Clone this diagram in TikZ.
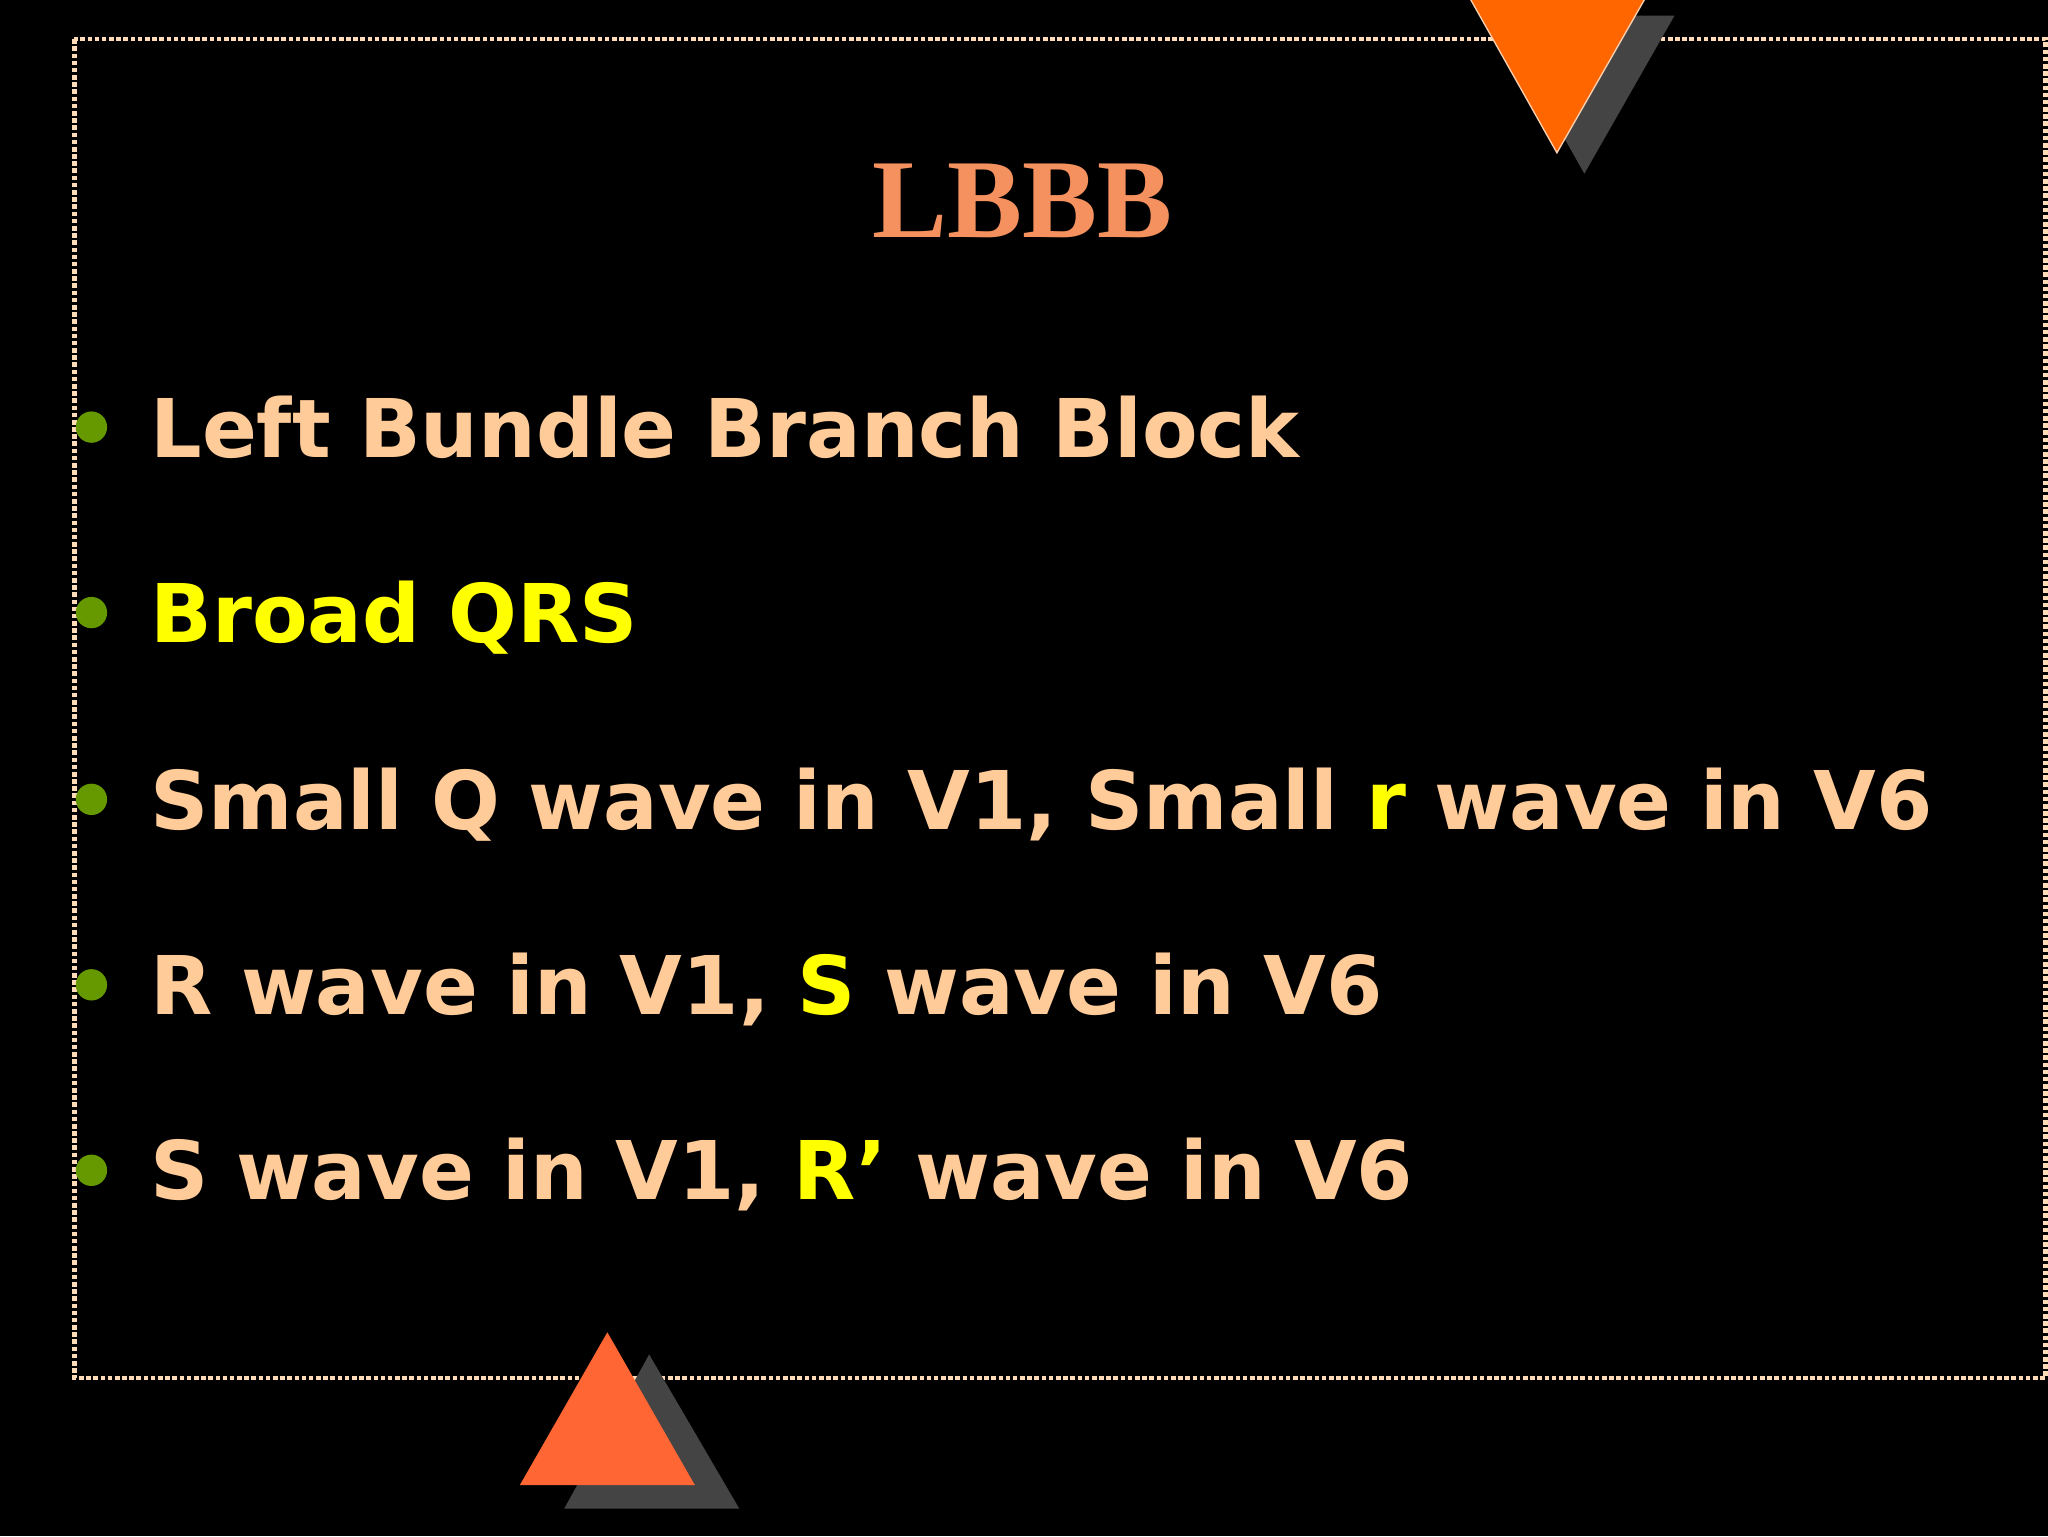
\documentclass[tikz,border=0pt]{standalone}
\usepackage{fontspec}
\setmainfont{DejaVu Sans}
\newfontfamily\titlefont{Liberation Serif}
\definecolor{peach}{HTML}{FFCC99}
\definecolor{yel}{HTML}{FFFF00}
\definecolor{salmon}{HTML}{F4915E}
\definecolor{bgreen}{HTML}{669900}
\definecolor{orng}{HTML}{FF6600}
\definecolor{orred}{HTML}{FF6633}
\definecolor{shad}{HTML}{444444}
\begin{document}
\begin{tikzpicture}[x=1pt,y=-1pt,
  item/.style={anchor=base west,inner sep=0pt,font=\fontsize{62}{72}\selectfont\bfseries,text=peach},
  bul/.style={circle,fill=bgreen,minimum size=24pt,inner sep=0pt}]
\fill[black] (0,0) rectangle (1568,1176);
\useasboundingbox (0,0) rectangle (1568,1176);
\draw[peach!70!white,line width=3.5pt,dotted] (57,30) rectangle (1566,1055);
\fill[shad] (1145,12) -- (1282,12) -- (1213,133) -- cycle;
\fill[orng] (1125,-2) -- (1260,-2) -- (1192,117) -- cycle;
\draw[white!70!orng,line width=1pt] (1125,-2) -- (1192,117) -- (1260,-2);
\fill[shad] (497,1037) -- (566,1155) -- (432,1155) -- cycle;
\fill[orred] (465,1020) -- (532,1137) -- (398,1137) -- cycle;
\node[anchor=base,inner sep=0pt,text=salmon,font=\titlefont\fontsize{86}{100}\selectfont\bfseries] (title) at (783,182) {LBBB};
\node[bul] (b1) at (70,327) {};
\node[bul] (b2) at (70,469) {};
\node[bul] (b3) at (70,612) {};
\node[bul] (b4) at (70,754) {};
\node[bul] (b5) at (70,896) {};
\node[item] (t1) at (115,350) {Left Bundle Branch Block};
\node[item,text=yel] (t2) at (115,492) {Broad QRS};
\node[item] (t3) at (115,635) {Small Q wave in V1, Small \textcolor{yel}{r} wave in V6};
\node[item] (t4) at (115,777) {R wave in V1, \textcolor{yel}{S} wave in V6};
\node[item] (t5) at (115,918) {S wave in V1, \textcolor{yel}{R’} wave in V6};
\end{tikzpicture}
\end{document}
